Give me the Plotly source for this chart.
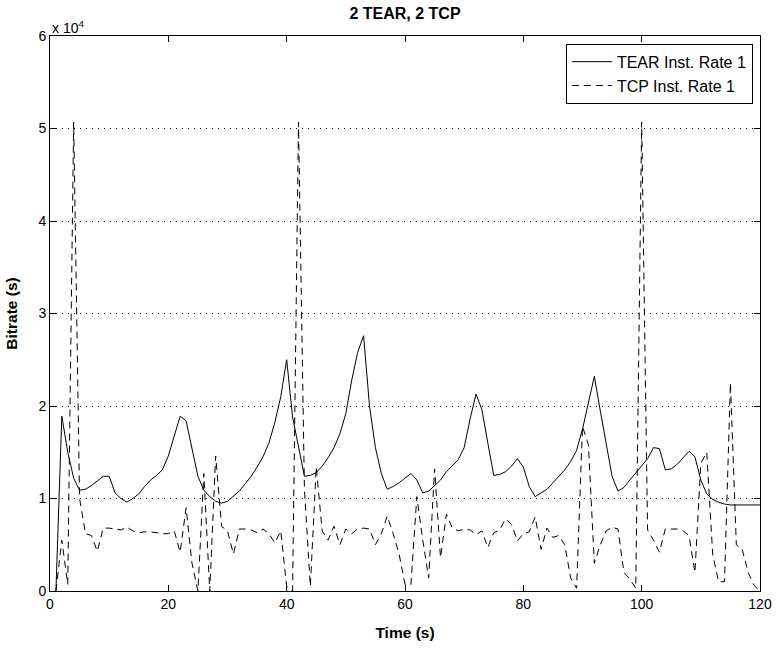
import numpy as np
import plotly.graph_objects as go

# Time axis (s)
time_s = list(range(1, 121))

# TEAR instantaneous rate 1 (units of 1e4)
tear_rate_1 = [
    0.00, 1.89, 1.50, 1.22, 1.09, 1.10, 1.14, 1.19, 1.24, 1.24,
    1.06, 1.00, 0.96, 1.00, 1.05, 1.13, 1.20, 1.25, 1.31, 1.46,
    1.68, 1.89, 1.84, 1.55, 1.24, 1.09, 1.02, 0.97, 0.95, 0.97,
    1.02, 1.08, 1.16, 1.24, 1.34, 1.45, 1.60, 1.82, 2.10, 2.50,
    1.88, 1.55, 1.24, 1.25, 1.28, 1.35, 1.44, 1.55, 1.70, 1.92,
    2.28, 2.58, 2.76, 2.00, 1.55, 1.27, 1.10, 1.13, 1.17, 1.22,
    1.27, 1.20, 1.06, 1.08, 1.14, 1.20, 1.29, 1.35, 1.42, 1.55,
    1.86, 2.13, 1.96, 1.60, 1.25, 1.26, 1.29, 1.35, 1.43, 1.34,
    1.13, 1.02, 1.06, 1.10, 1.17, 1.24, 1.31, 1.40, 1.52, 1.75,
    2.03, 2.32, 1.95, 1.60, 1.24, 1.08, 1.12, 1.20, 1.28, 1.35,
    1.43, 1.55, 1.54, 1.31, 1.32, 1.37, 1.44, 1.51, 1.45, 1.20,
    1.05, 0.99, 0.96, 0.94, 0.93, 0.93, 0.93, 0.93, 0.93, 0.93,
]

# TCP instantaneous rate 1 (units of 1e4)
tcp_rate_1 = [
    0.00, 0.55, 0.07, 5.07, 1.00, 0.62, 0.60, 0.43, 0.68, 0.68,
    0.67, 0.66, 0.69, 0.65, 0.63, 0.64, 0.64, 0.63, 0.62, 0.62,
    0.65, 0.42, 0.90, 0.30, 0.00, 1.27, 0.00, 1.46, 0.70, 0.65,
    0.40, 0.67, 0.67, 0.66, 0.63, 0.67, 0.62, 0.52, 0.65, 0.05,
    0.00, 5.07, 1.10, 0.05, 1.34, 0.65, 0.55, 0.70, 0.50, 0.67,
    0.62, 0.67, 0.68, 0.67, 0.50, 0.62, 0.81, 0.62, 0.40, 0.07,
    0.07, 1.02, 0.55, 0.14, 1.32, 0.36, 0.83, 0.68, 0.65, 0.67,
    0.66, 0.61, 0.65, 0.47, 0.63, 0.66, 0.78, 0.72, 0.54, 0.62,
    0.64, 0.80, 0.45, 0.68, 0.58, 0.60, 0.50, 0.14, 0.03, 1.78,
    1.58, 0.30, 0.50, 0.65, 0.69, 0.67, 0.20, 0.13, 0.03, 5.07,
    0.66, 0.55, 0.42, 0.67, 0.67, 0.67, 0.65, 0.60, 0.20, 1.38,
    1.50, 0.40, 0.10, 0.10, 2.25, 0.50, 0.45, 0.20, 0.06, 0.00,
]

x_ticks = [0, 20, 40, 60, 80, 100, 120]
y_ticks = [0, 1, 2, 3, 4, 5, 6]

FONT = "Liberation Sans, Arial, Helvetica, sans-serif"

fig = go.Figure()
fig.add_trace(go.Scatter(
    x=time_s, y=tear_rate_1, mode="lines", name="TEAR Inst. Rate 1",
    line=dict(color="black", width=1),
))
fig.add_trace(go.Scatter(
    x=time_s, y=tcp_rate_1, mode="lines", name="TCP Inst. Rate 1",
    line=dict(color="black", width=1, dash="7px,5px"),
))

fig.update_layout(
    width=778, height=648,
    paper_bgcolor="white", plot_bgcolor="white",
    margin=dict(l=49.5, r=18, t=35.5, b=57, autoexpand=False),
    font=dict(family=FONT, size=14, color="black"),
    title=dict(text="<b>2 TEAR, 2 TCP</b>", x=0.5, xanchor="center",
               xref="paper", y=1 - 13 / 648, yanchor="middle",
               font=dict(size=16)),
    showlegend=True,
    legend=dict(x=0.990, y=0.986, xanchor="right", yanchor="top",
                bgcolor="white", bordercolor="black", borderwidth=1,
                font=dict(size=16), tracegroupgap=0,
                itemwidth=40),
)

fig.update_xaxes(
    range=[0, 120], tickvals=x_ticks, ticktext=[str(v) for v in x_ticks],
    ticks="inside", ticklen=6, tickcolor="black", showline=True,
    linecolor="black", linewidth=1, mirror="ticks", showgrid=False,
    zeroline=False, automargin=False, tickfont=dict(size=14),
    title=dict(text="<b>Time (s)</b>", font=dict(size=15.5), standoff=16),
)
fig.update_yaxes(
    range=[0, 6], tickvals=y_ticks, ticktext=[str(v) for v in y_ticks],
    ticks="inside", ticklen=6, tickcolor="black", showline=True,
    linecolor="black", linewidth=1, mirror="ticks", showgrid=True,
    gridcolor="black", griddash="1px,5px", gridwidth=1,
    zeroline=False, automargin=False, tickfont=dict(size=14),
    title=dict(text="<b>Bitrate (s)</b>", font=dict(size=15.5), standoff=16),
)

fig.add_annotation(
    text="x 10<sup>4</sup>", xref="paper", yref="paper", x=0, y=1,
    xanchor="left", yanchor="bottom", showarrow=False,
    font=dict(size=14), yshift=-2,
)

fig.write_html("out.html")
